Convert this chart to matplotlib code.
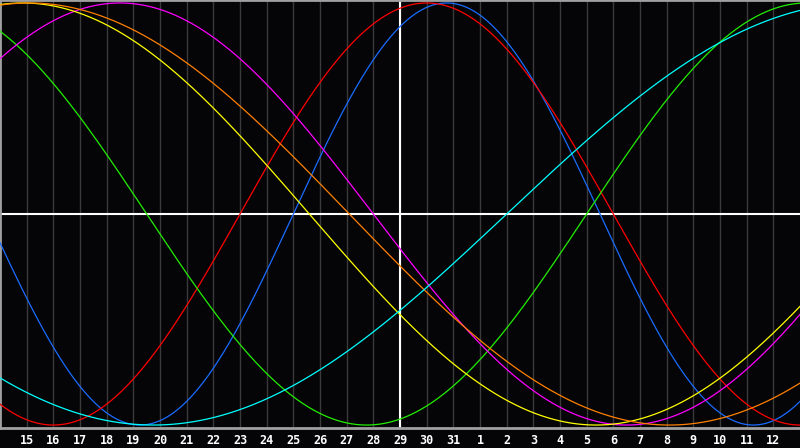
import numpy as np
import matplotlib
matplotlib.use("Agg")
import matplotlib.pyplot as plt

# days shown across the chart (first and last column are unlabeled edges)
days = list(range(14, 32)) + list(range(1, 14))
today_idx = 15  # the 29th, white marker line

# biorhythm cycles: period (days) and day-in-cycle at the first column
cycle_names = ["physical", "emotional", "intellectual", "intuitive",
               "aesthetic", "awareness", "spiritual"]
periods = [23, 28, 33, 38, 43, 48, 53]
start_day = [12.0, 19.0, 11.0, 5.0, 9.9, 10.9, 34.0]
colors = ["#1a6cff", "#ff0000", "#22ee00", "#ff00ff", "#ffff00", "#ff8000", "#00ffff"]

bg = "#050508"
fig = plt.figure(figsize=(8, 4.48), dpi=100, facecolor=bg)
ax = fig.add_axes([0, 20 / 448, 1, 428 / 448])
ax.set_facecolor(bg)

n = len(days)
ax.set_xlim(0, n - 1)
ax.set_ylim(-1.014, 1.014)

# day grid
for i in range(1, n - 1):
    ax.axvline(i, color="#3a3a3a", lw=1.0, zorder=1)

# curves
t = np.linspace(0, n - 1, 1200)
for name, p, s, c in zip(cycle_names, periods, start_day, colors):
    y = np.sin(2 * np.pi * (s + t) / p)
    ax.plot(t, y, color=c, lw=0.9, zorder=3, label=name)

# today / zero markers
ax.axvline(today_idx, color="white", lw=1.5, zorder=2)
ax.axhline(0, color="white", lw=1.5, zorder=2)

for side in ["left", "top", "bottom"]:
    ax.spines[side].set_color("#a0a0a0")
    ax.spines[side].set_linewidth(2)
ax.spines["right"].set_visible(False)

ax.set_yticks([])
ax.set_xticks(range(1, n - 1))
ax.set_xticklabels([str(d) for d in days[1:-1]], color="white",
                   fontsize=8.5, fontweight="bold", family="DejaVu Sans Mono")
ax.tick_params(axis="x", length=0, pad=4)

fig.savefig("out.png", dpi=100, facecolor=bg)
